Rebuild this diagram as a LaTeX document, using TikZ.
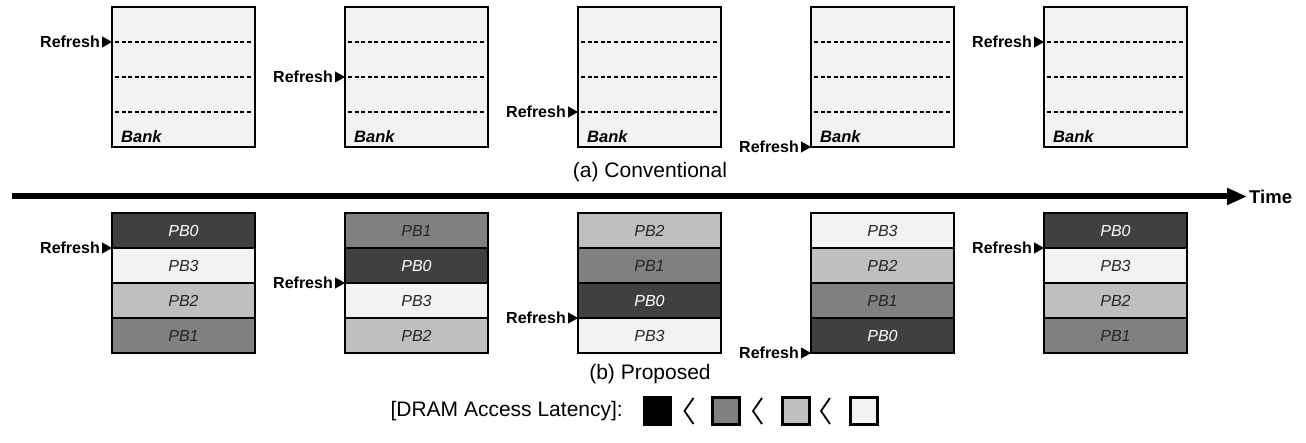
\documentclass[tikz,border=0pt]{standalone}
\usepackage{fontspec}
\setmainfont{Liberation Sans}
\usetikzlibrary{positioning,arrows.meta,calc}

\definecolor{bankfill}{HTML}{F2F2F2}
\definecolor{pbzero}{HTML}{404040}
\definecolor{pbone}{HTML}{808080}
\definecolor{pbtwo}{HTML}{BFBFBF}
\definecolor{pbthree}{HTML}{F2F2F2}

\tikzset{
    bankbox/.style={draw, line width=2.6pt, fill=bankfill, minimum width=143, minimum height=140, inner sep=0, outer sep=0},
    banklabel/.style={font=\bfseries\itshape\fontsize{16.5}{16.5}\selectfont, inner sep=0},
    rowline/.style={line width=2pt, dash pattern=on 4pt off 2.6pt},
    pbbox/.style={draw, line width=2.6pt, minimum width=143, minimum height=35, inner sep=0, outer sep=0, font=\itshape\fontsize{16}{16}\selectfont},
    pb0/.style={fill=pbzero, text=white},
    pb1/.style={fill=pbone, text=black!85},
    pb2/.style={fill=pbtwo, text=black!85},
    pb3/.style={fill=pbthree, text=black!85},
    reflabel/.style={font=\bfseries\fontsize{16}{16}\selectfont, anchor=east, inner sep=2pt},
    refarrow/.style={-{Triangle[length=10pt,width=11pt]}, line width=0.1pt},
    caption/.style={font=\fontsize{21}{21}\selectfont, inner sep=0},
    legbox/.style={draw, line width=2.4pt, minimum width=27, minimum height=27, inner sep=0},
    chevron/.style={line width=1.8pt, line join=miter},
}

\begin{document}
\begin{tikzpicture}[x=1pt, y=-1pt]
    \useasboundingbox (0,0) rectangle (1306,443);

    \foreach \i/\a/\b/\c/\d/\r in {1/0/3/2/1/1, 2/1/0/3/2/2, 3/2/1/0/3/3, 4/3/2/1/0/4, 5/0/3/2/1/1} {
        \pgfmathsetmacro\cx{183.5+233*(\i-1)}
        % (a) conventional bank
        \node[bankbox] (bank\i) at (\cx,77) {};
        \foreach \k in {1,2,3}
            \draw[rowline] ($(bank\i.north west)!\k/4!(bank\i.south west)+(3,0)$) -- ($(bank\i.north east)!\k/4!(bank\i.south east)+(-4,0)$);
        \node[banklabel, anchor=south west] (banktxt\i) at ([xshift=9pt, yshift=4pt]bank\i.south west) {Bank};
        \coordinate (ta\i) at ($(bank\i.north west)!\r/4!(bank\i.south west)$);
        \node[reflabel] (refa\i) at ([xshift=-10pt]ta\i) {Refresh};
        \draw[refarrow] (refa\i.east) -- (ta\i);

        % (b) proposed sub-banks
        \node[pbbox, pb\a] (pb\i a) at (\cx,230.5) {PB\a};
        \node[pbbox, pb\b, below=0pt of pb\i a] (pb\i b) {PB\b};
        \node[pbbox, pb\c, below=0pt of pb\i b] (pb\i c) {PB\c};
        \node[pbbox, pb\d, below=0pt of pb\i c] (pb\i d) {PB\d};
        \coordinate (tb\i) at ($(pb\i a.north west)!\r/4!(pb\i a.north west |- pb\i d.south)$);
        \node[reflabel] (refb\i) at ([xshift=-10pt]tb\i) {Refresh};
        \draw[refarrow] (refb\i.east) -- (tb\i);
    }

    \node[caption] (capa) at (650,172) {(a) Conventional};

    % time axis
    \coordinate (tstart) at (12,196.5);
    \node[font=\bfseries\fontsize{18.5}{18.5}\selectfont, anchor=west, inner sep=2pt] (time) at (1247,196.5) {Time};
    \draw[line width=6pt, -{Triangle[length=20pt,width=16pt]}] (tstart) -- (time.west);

    \node[caption] (capb) at (650,374) {(b) Proposed};

    % legend
    \node[caption, anchor=east] (legtxt) at (623,411) {[DRAM Access Latency]:};
    \node[legbox, fill=black] (lg0) at (657.5,411) {};
    \node[legbox, fill=pbone] (lg1) at (726,411) {};
    \node[legbox, fill=pbtwo] (lg2) at (796,411) {};
    \node[legbox, fill=pbthree] (lg3) at (864,411) {};
    \draw[chevron] ([xshift=36pt, yshift=13pt]lg0.center) -- ++(-9,13) -- ++(9,13);
    \draw[chevron] ([xshift=36pt, yshift=13pt]lg1.center) -- ++(-9,13) -- ++(9,13);
    \draw[chevron] ([xshift=34pt, yshift=13pt]lg2.center) -- ++(-9,13) -- ++(9,13);
\end{tikzpicture}
\end{document}
